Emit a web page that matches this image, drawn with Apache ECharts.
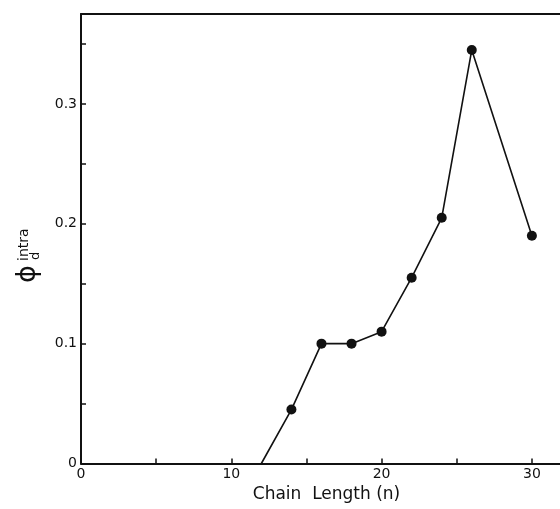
<!DOCTYPE html>
<html>
<head>
<meta charset="utf-8">
<script src="https://cdn.jsdelivr.net/npm/echarts@6/dist/echarts.min.js"></script>
<style>
html,body{margin:0;padding:0;background:#fff;}
#chart{width:560px;height:509px;}
</style>
</head>
<body>
<div id="chart"></div>
<script>
// ---- data ----
const chainLength = [12, 14, 16, 18, 20, 22, 24, 26, 30];
const phiIntra = [0, 0.045, 0.1, 0.1, 0.11, 0.155, 0.205, 0.345, 0.19];
const markerShown = [false, true, true, true, true, true, true, true, true];
const xTickValues = [0, 10, 20, 30];
const xTickLabels = ['0', '10', '20', '30'];
const yTickValues = [0, 0.1, 0.2, 0.3];
const yTickLabels = ['0', '0.1', '0.2', '0.3'];
const xAxisTitle = 'Chain  Length (n)';

const FONT = '"DejaVu Sans", sans-serif';
const INK = '#111';
const X_MAX = 31.87;

function labelFor(values, labels) {
  return function (v) {
    for (let i = 0; i < values.length; i++) {
      if (Math.abs(values[i] - v) < 1e-6) return labels[i];
    }
    return '';
  };
}

const seriesData = chainLength.map((x, i) => {
  const item = { value: [x, phiIntra[i]] };
  if (!markerShown[i]) item.symbol = 'none';
  return item;
});

const chart = echarts.init(document.getElementById('chart'), null, { renderer: 'canvas' });
chart.setOption({
  animation: false,
  backgroundColor: '#fff',
  grid: { left: 81, right: 0, top: 14, bottom: 45.5, show: false },
  xAxis: [{
    type: 'value', min: 0, max: X_MAX, interval: 5,
    name: xAxisTitle, nameLocation: 'middle', nameGap: 22,
    nameTextStyle: { fontFamily: FONT, fontSize: 17, color: INK, padding: [0, 0, 0, 12] },
    axisLine: { show: true, onZero: false, lineStyle: { color: INK, width: 2 } },
    axisTick: { show: true, inside: true, length: 5, lineStyle: { color: INK, width: 1.5 } },
    axisLabel: { show: true, margin: 4, fontFamily: FONT, fontSize: 14, color: INK,
      formatter: labelFor(xTickValues, xTickLabels), showMaxLabel: false },
    splitLine: { show: false }
  }, {
    type: 'value', position: 'top', min: 0, max: X_MAX,
    axisLine: { show: true, onZero: false, lineStyle: { color: INK, width: 2 } },
    axisTick: { show: false }, axisLabel: { show: false }, splitLine: { show: false }
  }],
  yAxis: {
    type: 'value', min: 0, max: 0.375, interval: 0.05,
    axisLine: { show: true, onZero: false, lineStyle: { color: INK, width: 2 } },
    axisTick: { show: true, inside: true, length: 5, lineStyle: { color: INK, width: 1.5 } },
    axisLabel: { show: true, margin: 4, fontFamily: FONT, fontSize: 14, color: INK,
      formatter: labelFor(yTickValues, yTickLabels), showMaxLabel: false },
    splitLine: { show: false }
  },
  series: [{
    type: 'line',
    xAxisIndex: 0,
    data: seriesData,
    symbol: 'circle',
    symbolSize: 10,
    showAllSymbol: true,
    lineStyle: { color: INK, width: 1.6 },
    itemStyle: { color: INK, borderWidth: 0 },
    clip: false
  }],
  graphic: [{
    type: 'group',
    x: 28, y: 274,
    rotation: Math.PI / 2,
    children: [
      { type: 'text', x: 0, y: 0, style: { text: 'ϕ', font: '27px ' + FONT, fill: INK, align: 'center', verticalAlign: 'middle' } },
      { type: 'text', x: 13, y: -4, style: { text: 'intra', font: '14px ' + FONT, fill: INK, align: 'left', verticalAlign: 'middle' } },
      { type: 'text', x: 14, y: 8, style: { text: 'd', font: '13px ' + FONT, fill: INK, align: 'left', verticalAlign: 'middle' } }
    ]
  }]
});
</script>
</body>
</html>
